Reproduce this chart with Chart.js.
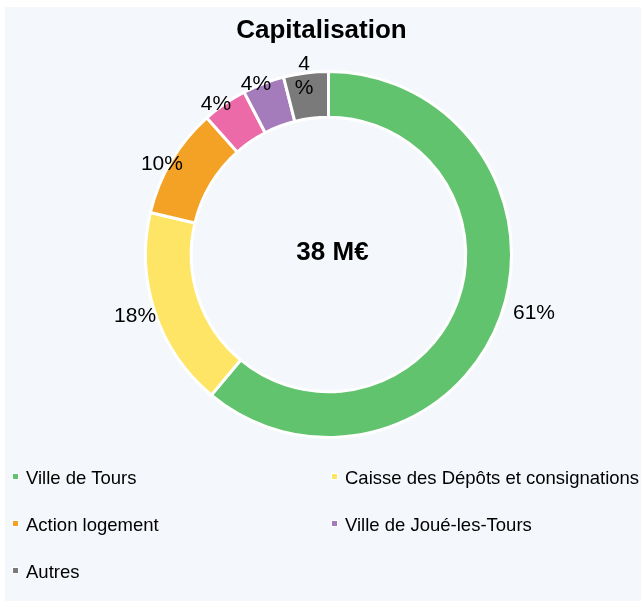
<!DOCTYPE html>
<html>
<head>
<meta charset="utf-8">
<script src="https://cdn.jsdelivr.net/npm/chart.js@4.4.0/dist/chart.umd.min.js"></script>
<style>
	html, body { margin: 0; padding: 0; background: #fff; }
	#wrap { position: relative; width: 641px; height: 601px; overflow: hidden; font-family: "Liberation Sans", Arial, sans-serif; color: #000; }
	#bg { position: absolute; left: 5px; top: 7px; right: 0; bottom: 0; background: #f4f7fc; }
	#chart { position: absolute; left: 0; top: 0; }
	#title { position: absolute; left: 0; width: 643px; top: 16px; text-align: center; font-weight: bold; font-size: 26px; line-height: 26px; }
	.item { position: absolute; font-size: 18.5px; line-height: 18px; white-space: nowrap; padding-left: 14px; }
	.item i { position: absolute; left: 0; top: 4px; width: 5px; height: 5px; border: 1.5px solid #fff; }
</style>
</head>
<body>
<div id="wrap">
	<div id="bg"></div>
	<canvas id="chart" width="641" height="601"></canvas>
	<div id="title">Capitalisation</div>
	<div id="legend"></div>
</div>
<script>
"use strict";

// capital held by each shareholder, M€
const categories = ["Ville de Tours", "Caisse des Dépôts et consignations", "Action logement", "(non légendé)", "Ville de Joué-les-Tours", "Autres"];
const amounts = [23.2, 6.7, 3.7, 1.5, 1.4, 1.5];
const colors = ["#62c36e", "#ffe566", "#f4a226", "#ec6aa8", "#a47cbc", "#7a7a7a"];
const inLegend = [true, true, true, false, true, true];

const total = amounts.reduce((a, b) => a + b, 0);

const sliceLabels = {
	id: 'sliceLabels',
	afterDatasetsDraw(chart, args, opts) {
		const ctx = chart.ctx;
		const meta = chart.getDatasetMeta(0);
		ctx.save();
		ctx.font = '21px "Liberation Sans", Arial, sans-serif';
		ctx.fillStyle = '#000';
		ctx.textAlign = 'center';
		ctx.textBaseline = 'middle';
		meta.data.forEach((arc, i) => {
			const p = arc.getProps(['x', 'y', 'startAngle', 'endAngle', 'outerRadius'], true);
			const mid = (p.startAngle + p.endAngle) / 2 + opts.angleShift[i] * Math.PI / 180;
			const r = p.outerRadius + opts.radialShift[i];
			const lx = p.x + Math.cos(mid) * r;
			const ly = p.y + Math.sin(mid) * r;
			const pct = Math.round(amounts[i] / total * 100);
			if (opts.split[i]) {
				ctx.fillText(String(pct), lx, ly - 12);
				ctx.fillText('%', lx, ly + 12);
			} else {
				ctx.fillText(pct + '%', lx, ly);
			}
		});
		ctx.restore();
	}
};

const centerText = {
	id: 'centerText',
	afterDatasetsDraw(chart) {
		const ctx = chart.ctx;
		const arc = chart.getDatasetMeta(0).data[0];
		ctx.save();
		ctx.font = 'bold 26px "Liberation Sans", Arial, sans-serif';
		ctx.fillStyle = '#000';
		ctx.textAlign = 'center';
		ctx.textBaseline = 'middle';
		ctx.fillText(Math.round(total) + ' M€', arc.x + 4, arc.y - 2);
		ctx.restore();
	}
};

const ctx = document.querySelector("#chart").getContext('2d');
new Chart(ctx, {
	type: 'doughnut',
	data: {
		labels: categories,
		datasets: [{
			data: amounts,
			backgroundColor: colors,
			borderColor: '#fff',
			borderWidth: 3,
			hoverBorderWidth: 3,
			hoverOffset: 0
		}]
	},
	options: {
		responsive: false,
		animation: false,
		devicePixelRatio: 1,
		cutout: '75%',
		layout: {
			padding: { left: 144, top: 70, right: 128, bottom: 162 }
		},
		plugins: {
			legend: { display: false },
			tooltip: { enabled: false },
			sliceLabels: {
				angleShift: [-4, 0.8, -2.3, -2.2, -2.2, -0.7],
				radialShift: [30.7, 20, 6.5, 4.9, 2.3, -2.8],
				split: [false, false, false, false, false, true]
			}
		}
	},
	plugins: [sliceLabels, centerText]
});

// legend, two columns, row by row
const legend = document.querySelector("#legend");
const cols = [12, 331];
const rows = [469, 516, 563];
let n = 0;
categories.forEach((name, i) => {
	if (!inLegend[i]) return;
	const el = document.createElement('div');
	el.className = 'item';
	el.style.left = cols[n % 2] + 'px';
	el.style.top = rows[Math.floor(n / 2)] + 'px';
	const box = document.createElement('i');
	box.style.background = colors[i];
	el.appendChild(box);
	el.appendChild(document.createTextNode(name));
	legend.appendChild(el);
	n++;
});
</script>
</body>
</html>
